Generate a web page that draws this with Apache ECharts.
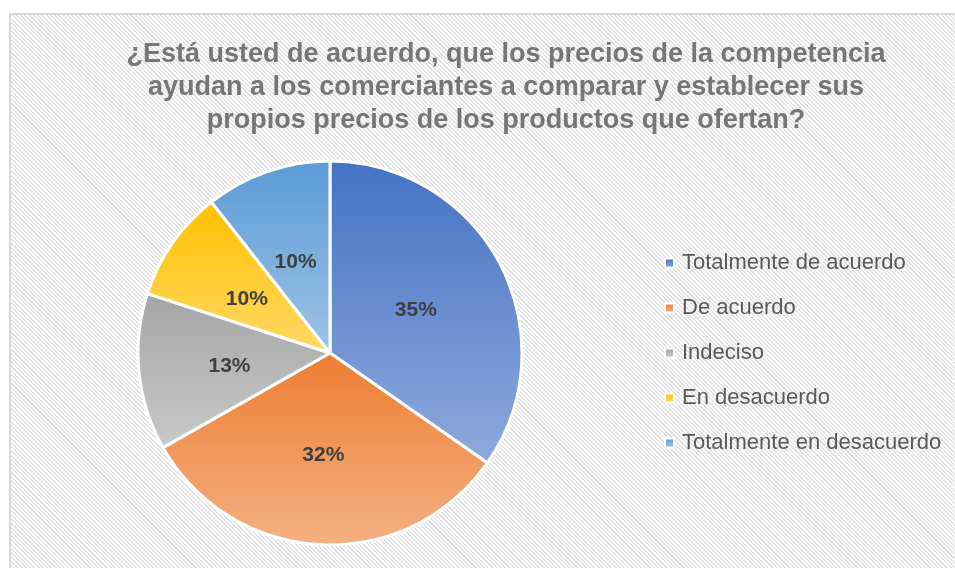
<!DOCTYPE html>
<html>
<head>
<meta charset="utf-8">
<script src="https://cdn.jsdelivr.net/npm/echarts@6/dist/echarts.min.js"></script>
<style>
  html, body { margin: 0; padding: 0; background: #ffffff; overflow: hidden; }
  #frame {
    position: absolute; left: 9px; top: 13px; width: 1000px; height: 600px;
    border: 2px solid #d9d9d9; box-sizing: border-box;
    background: repeating-linear-gradient(45deg, #ffffff 0px, #ffffff 1.5px, #e4e4e4 1.5px, #e4e4e4 3px);
  }
  #main { position: absolute; left: 0; top: 0; width: 955px; height: 568px; }
</style>
</head>
<body>
<div id="frame"></div>
<div id="main"></div>
<script>
// datos
var categorias = ['Totalmente de acuerdo', 'De acuerdo', 'Indeciso', 'En desacuerdo', 'Totalmente en desacuerdo'];
var valores = [34.7, 32.1, 13.2, 9.4, 10.6];
var etiquetas = ['35%', '32%', '13%', '10%', '10%'];

// colores tipo Office (arriba oscuro -> abajo claro)
var coloresArriba = ['#4472c4', '#ed7d31', '#a5a5a5', '#ffc000', '#5b9bd5'];
var coloresAbajo = ['#8faadc', '#f4b183', '#c9c9c9', '#ffd966', '#9dc3e6'];

function gradiente(i) {
  return new echarts.graphic.LinearGradient(0, 0, 0, 1, [
    { offset: 0, color: coloresArriba[i] },
    { offset: 1, color: coloresAbajo[i] }
  ]);
}

var chart = echarts.init(document.getElementById('main'), null, { renderer: 'canvas' });

var datos = categorias.map(function (c, i) {
  return {
    name: c,
    value: valores[i],
    itemStyle: { color: gradiente(i) }
  };
});

var option = {
  backgroundColor: 'transparent',
  animation: false,
  title: {
    text: '¿Está usted de acuerdo, que los precios de la competencia\nayudan a los comerciantes a comparar y establecer sus\npropios precios de los productos que ofertan?',
    left: 501,
    top: 33,
    textAlign: 'center',
    textStyle: {
      fontFamily: 'Liberation Sans, Arial, sans-serif',
      fontSize: 27,
      fontWeight: 'bold',
      color: '#767676',
      lineHeight: 33
    }
  },
  legend: {
    orient: 'vertical',
    left: 659,
    top: 247,
    itemWidth: 9,
    itemHeight: 9,
    itemGap: 23,
    icon: 'rect',
    textStyle: {
      fontFamily: 'Liberation Sans, Arial, sans-serif',
      fontSize: 22,
      color: '#595959',
      padding: [0, 0, 0, 3]
    },
    data: categorias
  },
  series: [{
    type: 'pie',
    center: [330, 353],
    radius: [0, 192],
    startAngle: 90,
    clockwise: true,
    data: datos,
    itemStyle: { borderColor: '#ffffff', borderWidth: 3 },
    label: {
      show: true,
      position: 'inside',
      offset: [-2, 3],
      formatter: function (p) { return etiquetas[p.dataIndex]; },
      fontFamily: 'Liberation Sans, Arial, sans-serif',
      fontSize: 21,
      fontWeight: 'bold',
      color: '#404040'
    },
    labelLine: { show: false },
    emphasis: { disabled: true }
  }]
};

chart.setOption(option);
</script>
</body>
</html>
